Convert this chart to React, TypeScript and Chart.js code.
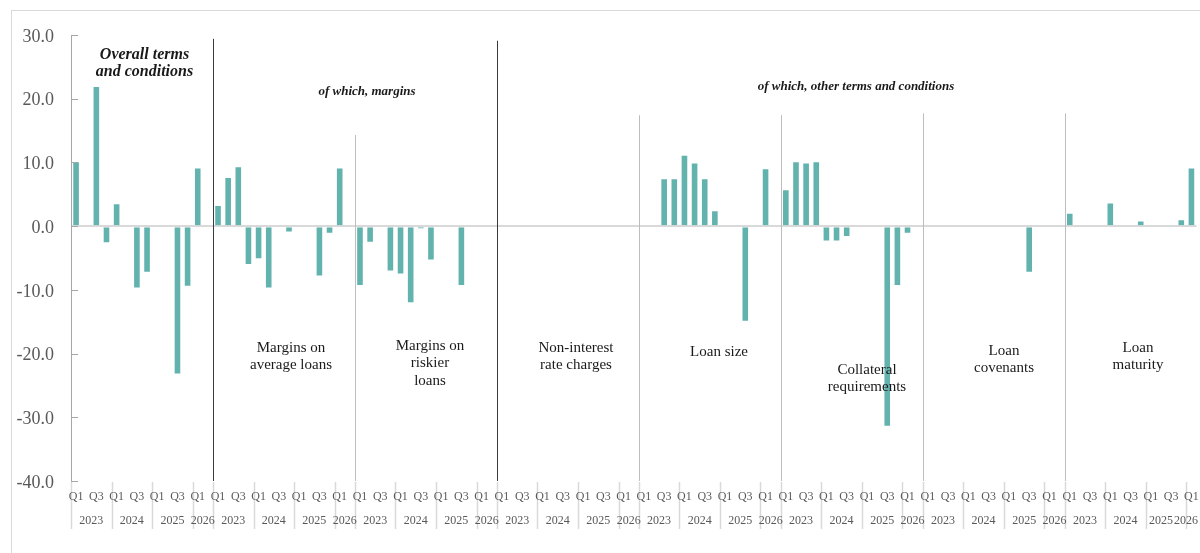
import React, { useEffect, useRef } from 'react';
import { Chart, registerables } from 'chart.js';

Chart.register(...registerables);

// ---- Data ----
const groupNames = [
  'Overall terms and conditions',
  'Margins on average loans',
  'Margins on riskier loans',
  'Non-interest rate charges',
  'Loan size',
  'Collateral requirements',
  'Loan covenants',
  'Loan maturity',
];
const quarterLabels = ['Q1', 'Q2', 'Q3', 'Q4', 'Q1', 'Q2', 'Q3', 'Q4', 'Q1', 'Q2', 'Q3', 'Q4', 'Q1'];
const quarterYears = ['2023', '2023', '2023', '2023', '2024', '2024', '2024', '2024', '2025', '2025', '2025', '2025', '2026'];
const yearTickLabels = ['2023', '2024', '2025', '2026'];
const yTickValues = [-40, -30, -20, -10, 0, 10, 20, 30];

const overallTerms = [10.2, null, 22.0, -2.7, 3.6, null, -9.8, -7.3, null, null, -23.3, -9.5, 9.2];
const marginsAverage = [3.3, 7.7, 9.4, -6.1, -5.2, -9.8, null, -1.0, null, null, -7.9, -1.2, 9.2];
const marginsRiskier = [-9.4, -2.6, null, -7.1, -7.6, -12.1, -0.5, -5.4, null, null, -9.4, null, null];
const nonInterestCharges = [null, null, null, null, null, null, null, null, null, null, null, null, null];
const loanSize = [null, null, 7.5, 7.5, 11.2, 10.0, 7.5, 2.5, null, null, -15.0, null, 9.1];
const collateral = [5.8, 10.2, 10.0, 10.2, -2.4, -2.4, -1.7, null, null, null, -31.5, -9.4, -1.2];
const covenants = [null, null, null, null, null, null, null, null, null, null, -7.3, null, null];
const maturity = [2.1, null, null, null, 3.7, null, null, 0.9, null, null, null, 1.1, 9.2];

const seriesByGroup = [overallTerms, marginsAverage, marginsRiskier, nonInterestCharges, loanSize, collateral, covenants, maturity];

// ---- Build flat category axis (13 quarters per group + one blank gap between groups) ----
const GROUP_SIZE = 14;
const labels: string[] = [];
const values: (number | null)[] = [];
seriesByGroup.forEach((s, g) => {
  quarterLabels.forEach((q, i) => {
    labels.push(q);
    values.push(s[i]);
  });
  if (g < seriesByGroup.length - 1) {
    labels.push('');
    values.push(null);
  }
});

const SERIF = "'Liberation Serif', 'Times New Roman', serif";
const BAR_COLOR = '#62b2ad';
const LABEL_GRAY = '#595959';

// annotation texts (lines)
const headings = [
  { lines: ['Overall terms', 'and conditions'], x: 144.5, y: [54.5, 72], size: 16 },
  { lines: ['of which, margins'], x: 367, y: [91.5], size: 13 },
  { lines: ['of which, other terms and conditions'], x: 856, y: [87], size: 13 },
];
const panelTexts = [
  { lines: ['Margins on', 'average loans'], x: 291, y: [348, 365.5] },
  { lines: ['Margins on', 'riskier', 'loans'], x: 430, y: [346, 363.5, 381] },
  { lines: ['Non-interest', 'rate charges'], x: 576, y: [348, 365.5] },
  { lines: ['Loan size'], x: 719, y: [352.5] },
  { lines: ['Collateral', 'requirements'], x: 867, y: [370, 387.5] },
  { lines: ['Loan', 'covenants'], x: 1004, y: [351, 368.5] },
  { lines: ['Loan', 'maturity'], x: 1138, y: [348, 365.5] },
];
// group separators: group index, colour, top (in axis units)
const separators = [
  { g: 1, color: '#3a3a3a', top: 29.4 },
  { g: 2, color: '#bdbdbd', top: 14.3 },
  { g: 3, color: '#3a3a3a', top: 29.1 },
  { g: 4, color: '#bdbdbd', top: 17.4 },
  { g: 5, color: '#bdbdbd', top: 17.4 },
  { g: 6, color: '#bdbdbd', top: 17.7 },
  { g: 7, color: '#bdbdbd', top: 17.7 },
];

const decorPlugin = {
  id: 'decor',
  afterDatasetsDraw(chart: any) {
    const ctx = chart.ctx as CanvasRenderingContext2D;
    const xs = chart.scales.x;
    const ys = chart.scales.y;
    const area = chart.chartArea;
    const w = xs.getPixelForValue(1) - xs.getPixelForValue(0);
    const edge = (i: number) => xs.getPixelForValue(i) - w / 2;
    const nCats = labels.length;

    ctx.save();
    // outer border
    ctx.strokeStyle = '#d9d9d9';
    ctx.lineWidth = 1;
    ctx.strokeRect(11.5, 10.5, chart.width + 20, chart.height + 20);

    // inner y tick marks
    ctx.strokeStyle = '#a6a6a6';
    ctx.lineWidth = 1;
    ys.ticks.forEach((t: any) => {
      const y = Math.round(ys.getPixelForValue(t.value)) + 0.5;
      ctx.beginPath();
      ctx.moveTo(area.left, y);
      ctx.lineTo(area.left + 7, y);
      ctx.stroke();
    });

    // group separators
    separators.forEach((s) => {
      const x = Math.round(edge(s.g * GROUP_SIZE)) + 0.5;
      ctx.strokeStyle = s.color;
      ctx.lineWidth = 1;
      ctx.beginPath();
      ctx.moveTo(x, ys.getPixelForValue(s.top));
      ctx.lineTo(x, area.bottom);
      ctx.stroke();
    });

    // x-axis: year separators
    const sepTop = area.bottom + 1;
    const sepBot = area.bottom + 48;
    ctx.strokeStyle = '#d9d9d9';
    ctx.lineWidth = 1.5;
    for (let g = 0; g < groupNames.length; g++) {
      [0, 4, 8, 12].forEach((k) => {
        const x = Math.round(edge(g * GROUP_SIZE + k)) + 0.5;
        ctx.beginPath();
        ctx.moveTo(x, sepTop);
        ctx.lineTo(x, sepBot);
        ctx.stroke();
      });
    }

    // quarter labels
    ctx.fillStyle = LABEL_GRAY;
    ctx.font = `12px ${SERIF}`;
    ctx.textAlign = 'center';
    ctx.textBaseline = 'middle';
    labels.forEach((l, i) => {
      if (l === 'Q1' || l === 'Q3') ctx.fillText(l, xs.getPixelForValue(i), area.bottom + 16);
    });

    // year labels
    const yY = area.bottom + 39.5;
    for (let g = 0; g < groupNames.length; g++) {
      const base = g * GROUP_SIZE;
      const last = g === groupNames.length - 1;
      const spans = [
        [edge(base), edge(base + 4)],
        [edge(base + 4), edge(base + 8)],
        [edge(base + 8), edge(base + 12)],
        [edge(base + 12), last ? edge(nCats - 1) + w : edge(base + 14)],
      ];
      const centers = spans.map((s) => (s[0] + s[1]) / 2);
      if (last) {
        const wy = ctx.measureText('2026').width;
        centers[3] = Math.min(centers[3], chart.width - 2 - wy / 2);
        centers[2] = Math.min(centers[2], centers[3] - wy - 1);
      }
      yearTickLabels.forEach((yl, k) => ctx.fillText(yl, centers[k], yY));
    }

    // headings
    ctx.fillStyle = '#1a1a1a';
    headings.forEach((h) => {
      ctx.font = `italic bold ${h.size}px ${SERIF}`;
      h.lines.forEach((ln, i) => ctx.fillText(ln, h.x, h.y[i]));
    });
    ctx.font = `15px ${SERIF}`;
    panelTexts.forEach((p) => {
      p.lines.forEach((ln, i) => ctx.fillText(ln, p.x, p.y[i]));
    });
    ctx.restore();
  },
};

export default function App() {
  const canvasRef = useRef<HTMLCanvasElement | null>(null);

  useEffect(() => {
    if (!canvasRef.current) return;
    const chart = new Chart(canvasRef.current, {
      type: 'bar',
      data: {
        labels,
        datasets: [
          {
            label: 'Net percentage',
            data: values as any,
            backgroundColor: BAR_COLOR,
            borderColor: 'rgba(255,255,255,0.55)',
            borderWidth: 1,
            barPercentage: 0.75,
            categoryPercentage: 1,
          },
        ],
      },
      options: {
        animation: false,
        responsive: true,
        maintainAspectRatio: false,
        layout: { padding: { left: 0, top: 35, right: 3.5, bottom: 0 } },
        plugins: {
          legend: { display: false },
          tooltip: { enabled: false },
        },
        scales: {
          x: {
            type: 'category',
            offset: true,
            grid: { display: false },
            border: { display: false },
            ticks: { display: false },
            afterFit: (s: any) => {
              s.height = 72;
            },
          },
          y: {
            min: -40,
            max: 30,
            afterBuildTicks: (s: any) => {
              s.ticks = yTickValues.map((v) => ({ value: v }));
            },
            ticks: {
              callback: (v: any) => Number(v).toFixed(1),
              font: { family: SERIF, size: 18 },
              color: LABEL_GRAY,
              padding: 17,
              labelOffset: 2,
            },
            grid: {
              drawTicks: false,
              color: (c: any) => (c.tick && c.tick.value === 0 ? '#d9d9d9' : 'rgba(0,0,0,0)'),
              lineWidth: 2,
            },
            border: { display: true, color: '#a6a6a6', width: 1 },
            afterFit: (s: any) => {
              s.width = 71;
            },
          },
        },
      },
      plugins: [decorPlugin],
    });
    return () => chart.destroy();
  }, []);

  return (
    <div style={{ position: 'fixed', left: 0, top: 0, width: 1200, height: 553, background: '#fff' }}>
      <canvas ref={canvasRef} />
    </div>
  );
}
